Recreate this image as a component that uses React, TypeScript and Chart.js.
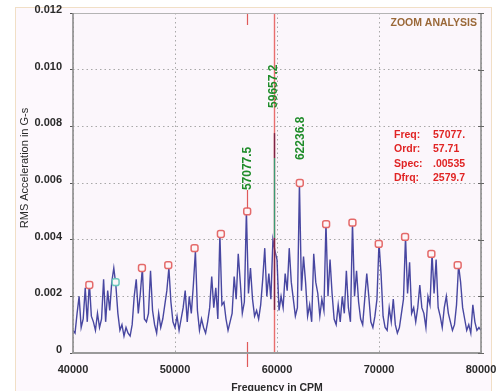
import { useEffect, useRef } from 'react';
import { Chart, registerables } from 'chart.js';

Chart.register(...registerables);

// ---------- DATA ----------
// spectrum amplitude in units of 1e-4 G-s, one bin every 200 CPM starting at 40000 CPM
const AMP_E4: number[] = [
  8, 7, 14, 20, 9, 12, 23, 11, 25, 13,
  11, 8, 14, 9, 12, 26, 11, 22, 15, 25,
  30, 24, 14, 8, 10, 6, 9, 7, 6, 10,
  20, 26, 14, 21, 30, 12, 11, 14, 29, 15,
  10, 7, 14, 9, 12, 17, 22, 30, 18, 11,
  9, 13, 8, 12, 16, 22, 11, 20, 14, 24,
  36, 15, 8, 12, 9, 7, 11, 16, 27, 16,
  23, 12, 42, 17, 18, 12, 8, 11, 14, 27,
  19, 35, 25, 14, 18, 50, 21, 30, 19, 13,
  15, 12, 17, 26, 37, 20, 28, 19, 40, 36,
  33, 15, 20, 16, 28, 22, 37, 25, 19, 13,
  16, 60, 22, 34, 25, 13, 17, 11, 35, 25,
  21, 13, 19, 15, 46, 20, 33, 21, 12, 10,
  17, 11, 20, 14, 29, 16, 11, 46, 20, 29,
  18, 12, 10, 19, 28, 20, 11, 9, 13, 19,
  39, 28, 13, 9, 8, 16, 11, 19, 10, 7,
  9, 14, 19, 41, 21, 32, 14, 16, 11, 16,
  24, 16, 14, 9, 20, 17, 35, 21, 33, 16,
  13, 9, 16, 20, 14, 11, 8, 10, 17, 31,
  25, 16, 12, 8, 10, 7, 17, 11, 8, 9,
  8,
];
const FREQ_START = 40000;
const FREQ_BIN = 200;

// harmonic markers (57077.5 +/- n * 2579.7)
const HARMONIC_FREQS: number[] = [
  41599.3, 44179.0, 46758.7, 49338.4, 51918.1, 54497.8, 57077.5,
  62236.8, 64816.5, 67396.2, 69975.9, 72555.6, 75135.3, 77715.0,
];
const HARMONIC_AMPS: number[] = [
  0.0024, 0.0025, 0.0030, 0.0031, 0.0037, 0.0042, 0.0050,
  0.0060, 0.00455, 0.0046, 0.00385, 0.0041, 0.0035, 0.0031,
];
const HARMONIC_COLORS: string[] = [
  '#e46a6a', '#6cc8bc', '#e46a6a', '#e46a6a', '#e46a6a', '#e46a6a', '#e46a6a',
  '#e46a6a', '#e46a6a', '#e46a6a', '#e46a6a', '#e46a6a', '#e46a6a', '#e46a6a',
];

const X_TICKS: number[] = [40000, 50000, 60000, 70000, 80000];
const Y_TICKS: number[] = [0, 0.002, 0.004, 0.006, 0.008, 0.01, 0.012];

const CURSOR_FREQ = 59657.2;
const REF_FREQ = 57077.5;
const PEAK_LABELS: { f: number; text: string; base: number }[] = [
  { f: 57077.5, text: '57077.5', base: 0.00575 },
  { f: 59657.2, text: '59657.2', base: 0.00865 },
  { f: 62236.8, text: '62236.8', base: 0.00681 },
];
const INFO_LABELS: string[] = ['Freq:', 'Ordr:', 'Spec:', 'Dfrq:'];
const INFO_VALUES: string[] = ['57077.', '57.71', '.00535', '2579.7'];
const INFO_TITLE = 'ZOOM ANALYSIS';
const X_TITLE = 'Frequency in CPM';
const Y_TITLE = 'RMS Acceleration in G-s';

const FONT = '"Liberation Sans", Arial, Helvetica, sans-serif';

const decorPlugin = {
  id: 'decor',
  beforeDraw(chart: any) {
    const { ctx, chartArea: a } = chart;
    ctx.save();
    ctx.fillStyle = '#fbf6fb';
    ctx.fillRect(a.left, a.top, a.right - a.left, a.bottom - a.top);
    ctx.restore();
  },
  afterDatasetsDraw(chart: any) {
    const { ctx, chartArea: a } = chart;
    const xs = chart.scales.x;
    const ys = chart.scales.y;
    ctx.save();

    // reference cursor (57077.5) short marks top & bottom
    const xr = Math.round(xs.getPixelForValue(REF_FREQ)) + 0.5;
    ctx.strokeStyle = '#e05a5a';
    ctx.lineWidth = 1.2;
    ctx.beginPath();
    ctx.moveTo(xr, a.top);
    ctx.lineTo(xr, a.top + 12);
    ctx.moveTo(xr, a.bottom - 11);
    ctx.lineTo(xr, a.bottom + 14);
    ctx.moveTo(xr, ys.getPixelForValue(0.00575));
    ctx.lineTo(xr, ys.getPixelForValue(0.0050) - 3);
    ctx.stroke();

    // main cursor
    const xc = Math.round(xs.getPixelForValue(CURSOR_FREQ)) + 0.5;
    ctx.strokeStyle = '#e86e6e';
    ctx.lineWidth = 1.4;
    ctx.beginPath();
    ctx.moveTo(xc, a.top);
    ctx.lineTo(xc, a.bottom);
    ctx.stroke();
    const seg = (v1: number, v2: number, col: string) => {
      ctx.strokeStyle = col;
      ctx.beginPath();
      ctx.moveTo(xc, ys.getPixelForValue(v1));
      ctx.lineTo(xc, ys.getPixelForValue(v2));
      ctx.stroke();
    };
    seg(0.00776, 0.00688, '#7c2446');
    seg(0.00688, 0.00406, '#3a9a74');
    seg(0.00406, 0.00152, '#7c2446');

    // rotated green peak labels
    ctx.fillStyle = '#1f8c2a';
    ctx.font = `bold 12px ${FONT}`;
    ctx.textAlign = 'left';
    ctx.textBaseline = 'middle';
    for (const l of PEAK_LABELS) {
      ctx.save();
      ctx.translate(xs.getPixelForValue(l.f) + 0.5, ys.getPixelForValue(l.base));
      ctx.rotate(-Math.PI / 2);
      ctx.fillText(l.text, 0, 0);
      ctx.restore();
    }

    // info box
    ctx.font = `bold 10.5px ${FONT}`;
    ctx.fillStyle = '#9a6838';
    ctx.textAlign = 'right';
    ctx.fillText(INFO_TITLE, a.right - 4, a.top + 10);
    ctx.fillStyle = '#e02424';
    ctx.textAlign = 'left';
    INFO_LABELS.forEach((t, i) => {
      const y = a.top + 122 + i * 14.5;
      ctx.fillText(t, a.right - 87, y);
      ctx.fillText(INFO_VALUES[i], a.right - 48, y);
    });

    // frame
    ctx.lineWidth = 1;
    ctx.strokeStyle = '#b4b4b4';
    ctx.beginPath();
    ctx.moveTo(a.left, a.top + 0.5);
    ctx.lineTo(a.right, a.top + 0.5);
    ctx.stroke();
    ctx.lineWidth = 1.6;
    ctx.strokeStyle = '#8c8c8c';
    ctx.beginPath();
    ctx.moveTo(a.left, a.top);
    ctx.lineTo(a.left, a.bottom);
    ctx.moveTo(a.right, a.top);
    ctx.lineTo(a.right, a.bottom);
    ctx.stroke();
    ctx.lineWidth = 2;
    ctx.strokeStyle = '#9a9a9a';
    ctx.beginPath();
    ctx.moveTo(a.left - 1, a.bottom);
    ctx.lineTo(a.right + 1, a.bottom);
    ctx.stroke();
    ctx.lineWidth = 1;
    ctx.strokeStyle = '#666';
    ctx.beginPath();
    for (const v of Y_TICKS) {
      const y = Math.round(ys.getPixelForValue(v)) + 0.5;
      ctx.moveTo(a.right - 3, y);
      ctx.lineTo(a.right + 3, y);
    }
    ctx.stroke();

    // axis titles
    ctx.fillStyle = '#2a2a2a';
    ctx.font = `bold 10.5px ${FONT}`;
    ctx.textAlign = 'center';
    ctx.textBaseline = 'middle';
    ctx.fillText(X_TITLE, (a.left + a.right) / 2, 388);
    ctx.save();
    ctx.translate(25, 168);
    ctx.rotate(-Math.PI / 2);
    ctx.font = `11px ${FONT}`;
    ctx.fillText(Y_TITLE, 0, 0);
    ctx.restore();

    ctx.restore();
  },
};

export default function App() {
  const ref = useRef<HTMLCanvasElement | null>(null);

  useEffect(() => {
    if (!ref.current) return;
    const spectrum = AMP_E4.map((a, i) => ({ x: FREQ_START + i * FREQ_BIN, y: a / 10000 }));
    const markers = HARMONIC_FREQS.map((f, i) => ({ x: f, y: HARMONIC_AMPS[i] }));
    const chart = new Chart(ref.current, {
      type: 'line',
      data: {
        datasets: [
          {
            data: markers,
            showLine: false,
            pointStyle: 'rectRounded',
            pointRadius: 4,
            pointBorderWidth: 1.5,
            pointBorderColor: HARMONIC_COLORS,
            pointBackgroundColor: '#fdf6f8',
            order: 0,
          },
          {
            data: spectrum,
            borderColor: 'rgba(40,40,145,0.85)',
            borderWidth: 1.4,
            pointRadius: 0,
            tension: 0,
            order: 1,
          },
        ],
      },
      options: {
        animation: false,
        responsive: false,
        devicePixelRatio: 1,
        events: [],
        layout: { padding: { top: 13, right: 16, left: 0, bottom: 0 } },
        plugins: { legend: { display: false }, tooltip: { enabled: false } },
        scales: {
          x: {
            type: 'linear',
            min: 40000,
            max: 80000,
            afterBuildTicks: (s: any) => {
              s.ticks = X_TICKS.map((v) => ({ value: v }));
            },
            afterFit: (s: any) => {
              s.height = 38;
              s.paddingLeft = 0;
              s.paddingRight = 0;
            },
            ticks: {
              callback: (v: any) => String(v),
              color: '#2a2a2a',
              font: { family: FONT, size: 11, weight: 'bold' },
              padding: 6,
              maxRotation: 0,
            },
            grid: {
              color: '#a8a8a8',
              tickLength: 4,
              tickColor: 'rgba(0,0,0,0)',
            },
            border: { display: false, dash: [1.5, 3] },
          },
          y: {
            type: 'linear',
            min: 0,
            max: 0.012,
            afterBuildTicks: (s: any) => {
              s.ticks = Y_TICKS.map((v) => ({ value: v }));
            },
            afterFit: (s: any) => {
              s.width = 73;
              s.paddingTop = 0;
              s.paddingBottom = 0;
            },
            ticks: {
              callback: (v: any) => (v === 0 ? '0' : Number(v).toFixed(3)),
              color: '#2a2a2a',
              font: { family: FONT, size: 11, weight: 'bold' },
              padding: 8,
              labelOffset: -3,
            },
            grid: {
              color: '#a8a8a8',
              tickLength: 3,
              tickColor: '#555',
              tickBorderDash: [],
            },
            border: { display: false, dash: [1.5, 3] },
          },
        },
      },
      plugins: [decorPlugin],
    } as any);
    return () => chart.destroy();
  }, []);

  return (
    <div
      style={{
        position: 'fixed',
        left: 0,
        top: 0,
        width: 497,
        height: 391,
        background: '#ffffff',
        overflow: 'hidden',
      }}
    >
      <div
        style={{
          position: 'absolute',
          left: 15,
          top: 7,
          width: 477,
          height: 400,
          background: '#fdf8fd',
          border: '1px solid #f1dfc6',
          boxSizing: 'border-box',
        }}
      />
      <canvas
        ref={ref}
        width={497}
        height={391}
        style={{ position: 'absolute', left: 0, top: 0, width: 497, height: 391 }}
      />
    </div>
  );
}
